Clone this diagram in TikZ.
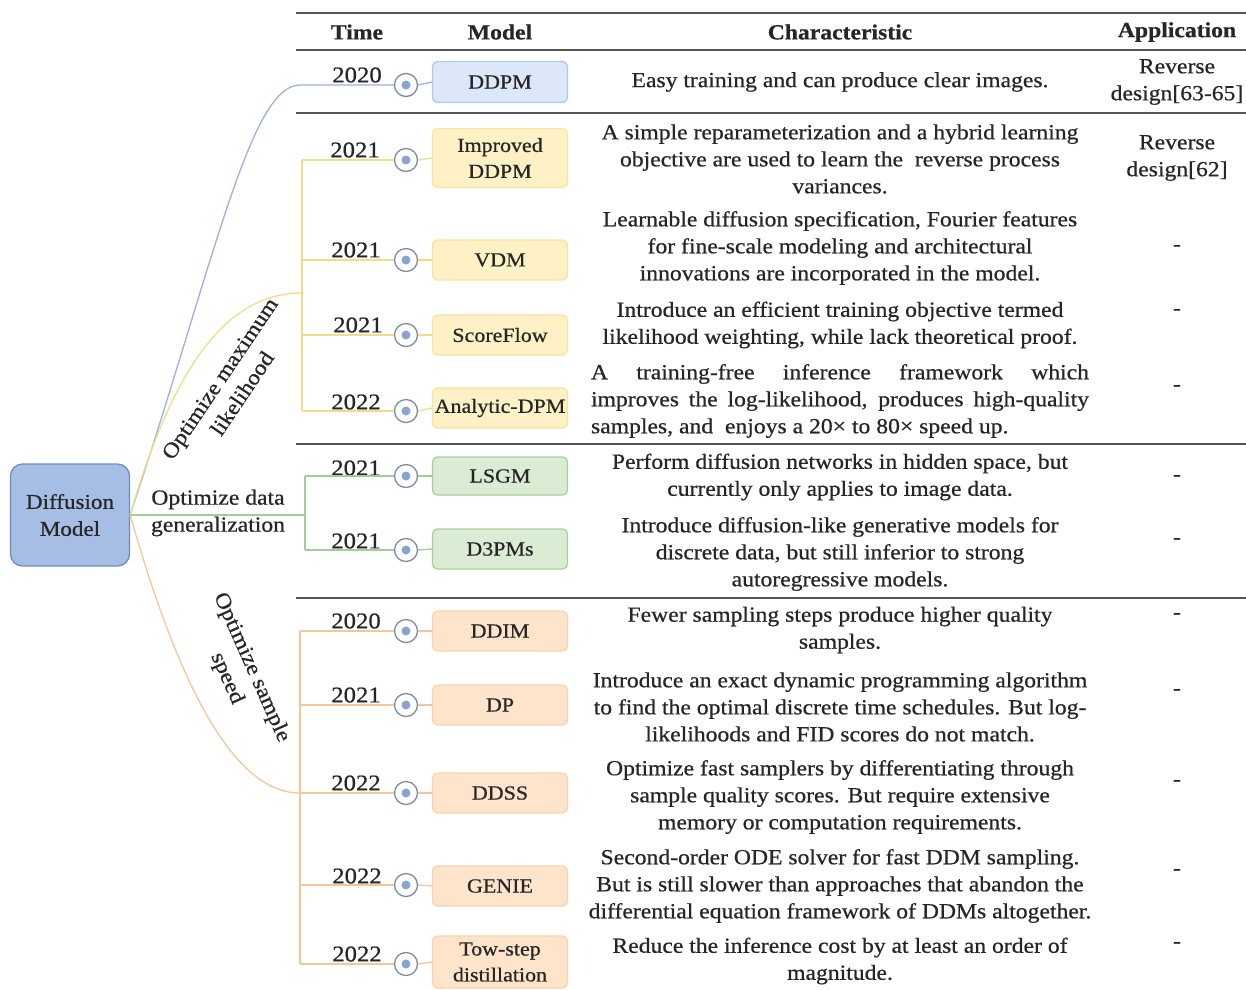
\documentclass[tikz,border=0pt]{standalone}
\usepackage{fontspec}
\setmainfont{Liberation Serif}[FakeStretch=1.1, FakeBold=0.6]
\definecolor{textc}{HTML}{262626}
\definecolor{rulec}{HTML}{555555}
\definecolor{bfill}{HTML}{DCE7F9}
\definecolor{bdraw}{HTML}{B4C8EC}
\definecolor{yfill}{HTML}{FEF1C6}
\definecolor{ydraw}{HTML}{F7E3A2}
\definecolor{gfill}{HTML}{DAEDD4}
\definecolor{gdraw}{HTML}{A9CF9C}
\definecolor{ofill}{HTML}{FDE4CA}
\definecolor{odraw}{HTML}{F8D4AE}
\definecolor{rootfill}{HTML}{A6BEE3}
\definecolor{rootdraw}{HTML}{6E8DC2}
\definecolor{bl}{HTML}{9DB2DA}
\definecolor{yl}{HTML}{F2DD86}
\definecolor{gl}{HTML}{A6CB98}
\definecolor{ol}{HTML}{F4C79A}
\definecolor{ringc}{HTML}{7E8BA3}
\definecolor{dotfill}{HTML}{8CA2CF}
\begin{document}
\begin{tikzpicture}[x=1pt,y=-1pt,
  txt/.style={font=\fontsize{21.5}{27}\selectfont, text=textc, inner sep=0pt, align=center},
  yr/.style={txt, font=\fontsize{22.5}{27}\selectfont},
  hdr/.style={txt, font=\fontsize{21.5}{27}\selectfont\bfseries},
  mbox/.style={txt, font=\fontsize{20}{26}\selectfont, rounded corners=5pt, line width=1.3pt, minimum width=135pt},
  bluebox/.style={mbox, fill=bfill, draw=bdraw},
  yelbox/.style={mbox, fill=yfill, draw=ydraw},
  grnbox/.style={mbox, fill=gfill, draw=gdraw},
  orgbox/.style={mbox, fill=ofill, draw=odraw},
  dotc/.style={circle, draw=ringc, line width=1.3pt, fill=white, minimum size=23pt, inner sep=0pt,
    path picture={\fill[dotfill] (path picture bounding box.center) circle (4.5pt);}},
  rulel/.style={line width=1.6pt, draw=rulec},
  bline/.style={draw=bl, line width=1.3pt},
  yline/.style={draw=yl, line width=1.3pt},
  gline/.style={draw=gl, line width=1.3pt},
  oline/.style={draw=ol, line width=1.3pt},
]
\useasboundingbox[fill=white] (0,0) rectangle (1246,989);

% table rules
\draw[rulel] (296,13) -- (1246,13);
\draw[rulel] (296,50) -- (1246,50);
\draw[rulel] (296,113) -- (1246,113);
\draw[rulel] (296,444) -- (1246,444);
\draw[rulel] (296,598) -- (1246,598);

% headers
\node[hdr] (hT) at (357,32) {Time};
\node[hdr] (hM) at (500,32) {Model};
\node[hdr] (hC) at (840,32) {Characteristic};
\node[hdr] (hA) at (1177,32) {Application};

% root
\node[txt, font=\fontsize{21}{27}\selectfont, fill=rootfill, draw=rootdraw, line width=1.3pt,
  rounded corners=12pt, minimum width=119pt, minimum height=102pt] (root) at (70,515) {Diffusion\\Model};

% branch labels
\node[txt, rotate=56] (l1) at (231,386) {Optimize maximum\\likelihood};
\node[txt] (l2) at (218,513) {Optimize data\\generalization};
\node[txt, rotate=-66] (l3) at (239,673) {Optimize sample\\speed};

% circles
\node[dotc] (c1) at (406,85) {};
\node[dotc] (c2) at (406,160) {};
\node[dotc] (c3) at (406,260) {};
\node[dotc] (c4) at (406,335) {};
\node[dotc] (c5) at (406,411) {};
\node[dotc] (c6) at (406,476) {};
\node[dotc] (c7) at (406,550) {};
\node[dotc] (c8) at (406,631) {};
\node[dotc] (c9) at (406,705) {};
\node[dotc] (c10) at (406,793) {};
\node[dotc] (c11) at (406,885) {};
\node[dotc] (c12) at (406,964) {};

% years
\node[yr] (y1) at (357,75) {2020};
\node[yr] (y2) at (355,150) {2021};
\node[yr] (y3) at (356,250) {2021};
\node[yr] (y4) at (358,325) {2021};
\node[yr] (y5) at (356,402) {2022};
\node[yr] (y6) at (356,468) {2021};
\node[yr] (y7) at (356,541) {2021};
\node[yr] (y8) at (356,621) {2020};
\node[yr] (y9) at (356,695) {2021};
\node[yr] (y10) at (356,783) {2022};
\node[yr] (y11) at (357,876) {2022};
\node[yr] (y12) at (357,954) {2022};

% model boxes
\node[bluebox, minimum height=41pt] (m1) at (500,82) {DDPM};
\node[yelbox, minimum height=59pt] (m2) at (500,158) {Improved\\DDPM};
\node[yelbox, minimum height=40pt] (m3) at (500,260) {VDM};
\node[yelbox, minimum height=40pt] (m4) at (500,335) {ScoreFlow};
\node[yelbox, minimum height=40pt] (m5) at (500,408) {Analytic-DPM};
\node[grnbox, minimum height=38pt] (m6) at (500,476) {LSGM};
\node[grnbox, minimum height=40pt] (m7) at (500,549) {D3PMs};
\node[orgbox, minimum height=40pt] (m8) at (500,631) {DDIM};
\node[orgbox, minimum height=40pt] (m9) at (500,705) {DP};
\node[orgbox, minimum height=40pt] (m10) at (500,793) {DDSS};
\node[orgbox, minimum height=40pt] (m11) at (500,886) {GENIE};
\node[orgbox, minimum height=52pt] (m12) at (500,962) {Tow-step\\distillation};

% characteristics
\node[txt] (t1) at (840,82) {Easy training and can produce clear images.};
\node[txt] (t2) at (840,159) {A simple reparameterization and a hybrid learning\\objective are used to learn the \ reverse process\\variances.};
\node[txt] (t3) at (840,248) {Learnable diffusion specification, Fourier features\\for fine-scale modeling and architectural\\innovations are incorporated in the model.};
\node[txt] (t4) at (840,325) {Introduce an efficient training objective termed\\likelihood weighting, while lack theoretical proof.};
\node[txt, align=left] (t5) at (840,401) {\makebox[498pt][s]{A training-free inference framework which}\\\makebox[498pt][s]{improves the log-likelihood, produces high-quality}\\samples, and \ enjoys a 20× to 80× speed up.};
\node[txt] (t6) at (840,477) {Perform diffusion networks in hidden space, but\\currently only applies to image data.};
\node[txt] (t7) at (840,554) {Introduce diffusion-like generative models for\\discrete data, but still inferior to strong\\autoregressive models.};
\node[txt] (t8) at (840,630) {Fewer sampling steps produce higher quality\\samples.};
\node[txt] (t9) at (840,707) {Introduce an exact dynamic programming algorithm\\to find the optimal discrete time schedules. But log-\\likelihoods and FID scores do not match.};
\node[txt] (t10) at (840,797) {Optimize fast samplers by differentiating through\\sample quality scores. But require extensive\\memory or computation requirements.};
\node[txt] (t11) at (840,886) {Second-order ODE solver for fast DDM sampling.\\But is still slower than approaches that abandon the\\differential equation framework of DDMs altogether.};
\node[txt] (t12) at (840,961) {Reduce the inference cost by at least an order of\\magnitude.};

% applications
\node[txt] (a1) at (1177,82) {Reverse\\design[63-65]};
\node[txt] (a2) at (1177,158) {Reverse\\design[62]};
\node[txt] (a3) at (1177,248) {-};
\node[txt] (a4) at (1177,312) {-};
\node[txt] (a5) at (1177,388) {-};
\node[txt] (a6) at (1177,478) {-};
\node[txt] (a7) at (1177,541) {-};
\node[txt] (a8) at (1177,616) {-};
\node[txt] (a9) at (1177,692) {-};
\node[txt] (a10) at (1177,783) {-};
\node[txt] (a11) at (1177,872) {-};
\node[txt] (a12) at (1177,945) {-};

% branch coordinates
\coordinate (bj) at (300,85);
\coordinate (yj) at (302,293);
\coordinate (ytop) at (302,160);
\coordinate (y3j) at (302,260);
\coordinate (y4j) at (302,335);
\coordinate (ybot) at (302,411);
\coordinate (gj) at (305,515);
\coordinate (gtop) at (305,476);
\coordinate (gbot) at (305,550);
\coordinate (oj) at (300,793);
\coordinate (otop) at (300,631);
\coordinate (o9j) at (300,705);
\coordinate (o11j) at (300,885);
\coordinate (obot) at (300,964);

% blue branch
\draw[bline] (root.east) .. controls (215,260) and (250,85) .. (bj) -- (c1.west);
\draw[bline] (c1.east) -- (m1.west);
% yellow branch
\draw[yline] (root.east) .. controls (175,360) and (230,293) .. (yj);
\draw[yline] (ytop) -- (ybot);
\draw[yline] (ytop) -- (c2.west);
\draw[yline] (y3j) -- (c3.west);
\draw[yline] (y4j) -- (c4.west);
\draw[yline] (ybot) -- (c5.west);
\draw[yline] (c2.east) -- (m2.west);
\draw[yline] (c3.east) -- (m3.west);
\draw[yline] (c4.east) -- (m4.west);
\draw[yline] (c5.east) -- (m5.west);
% green branch
\draw[gline] (root.east) -- (gj);
\draw[gline] (gtop) -- (gbot);
\draw[gline] (gtop) -- (c6.west);
\draw[gline] (gbot) -- (c7.west);
\draw[gline] (c6.east) -- (m6.west);
\draw[gline] (c7.east) -- (m7.west);
% orange branch
\draw[oline] (root.east) .. controls (180,690) and (235,793) .. (oj);
\draw[oline] (otop) -- (obot);
\draw[oline] (otop) -- (c8.west);
\draw[oline] (o9j) -- (c9.west);
\draw[oline] (oj) -- (c10.west);
\draw[oline] (o11j) -- (c11.west);
\draw[oline] (obot) -- (c12.west);
\draw[oline] (c8.east) -- (m8.west);
\draw[oline] (c9.east) -- (m9.west);
\draw[oline] (c10.east) -- (m10.west);
\draw[oline] (c11.east) -- (m11.west);
\draw[oline] (c12.east) -- (m12.west);
\end{tikzpicture}
\end{document}
